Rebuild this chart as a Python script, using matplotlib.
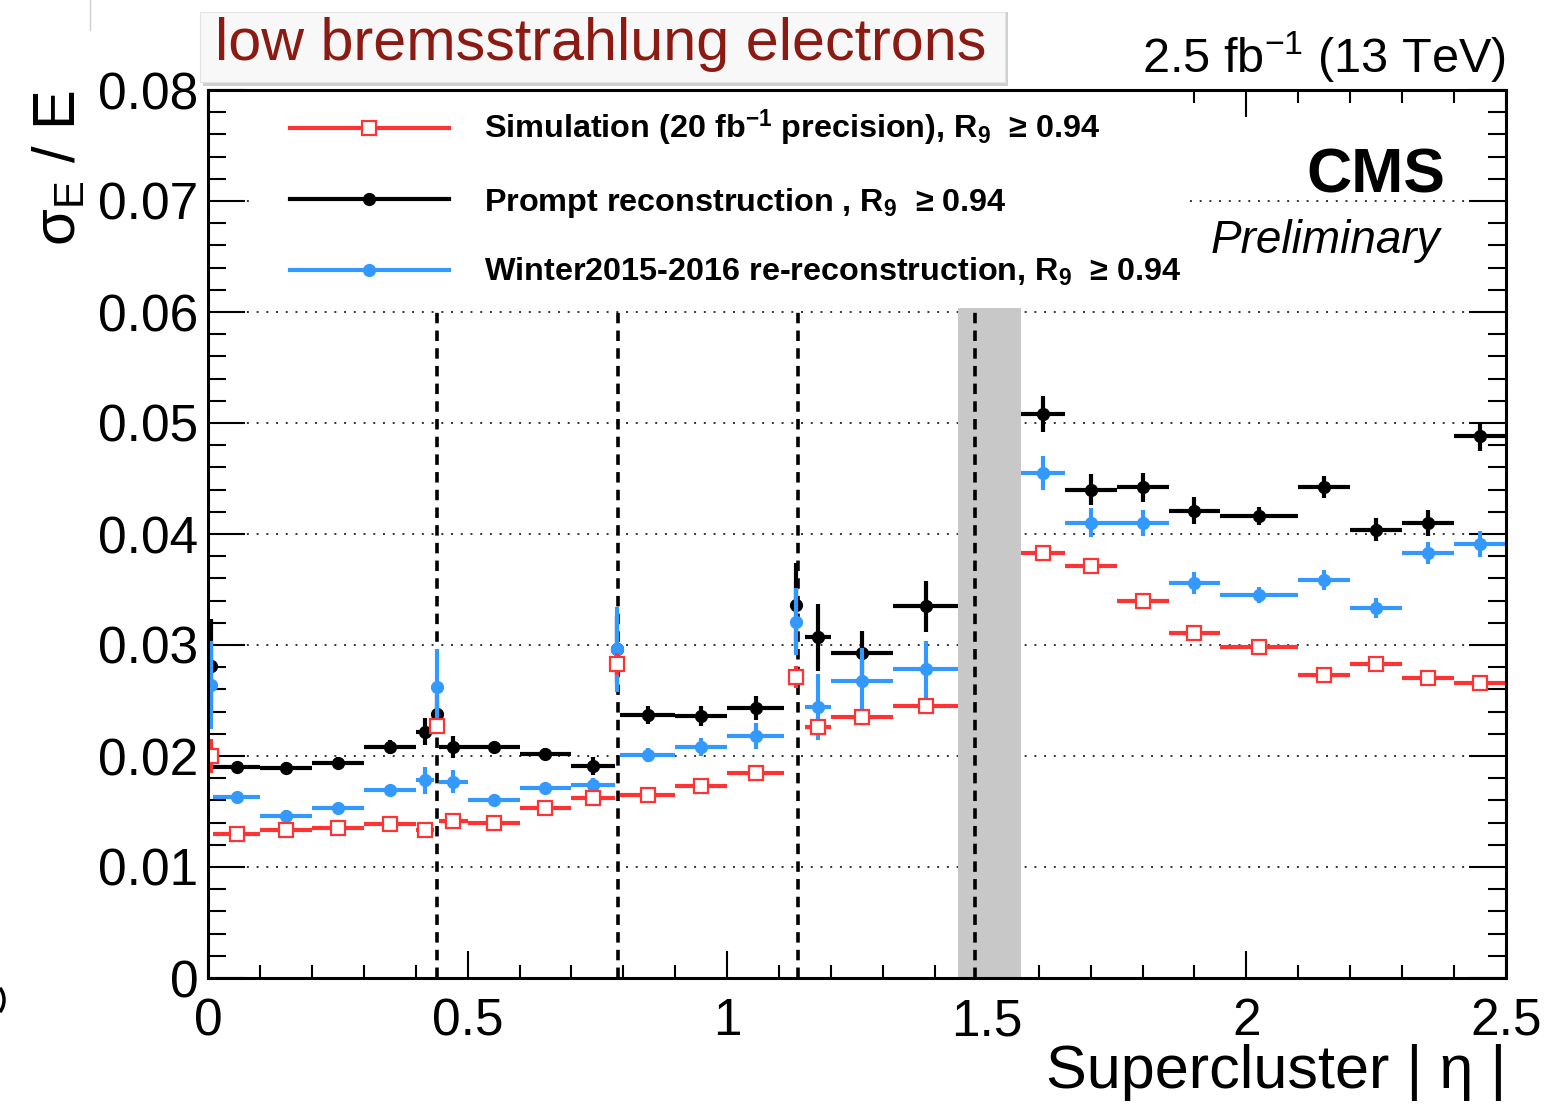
import matplotlib
matplotlib.use("Agg")
import matplotlib.pyplot as plt
from matplotlib.lines import Line2D
from matplotlib.patches import Rectangle, FancyBboxPatch, Arc
from matplotlib.ticker import MultipleLocator, FuncFormatter
import numpy as np

plt.rcParams['font.family'] = ['Liberation Sans', 'DejaVu Sans']
plt.rcParams['mathtext.fontset'] = 'custom'
plt.rcParams['mathtext.rm'] = 'Liberation Sans'
plt.rcParams['mathtext.bf'] = 'Liberation Sans:bold'
plt.rcParams['mathtext.it'] = 'Liberation Sans:italic'
plt.rcParams['mathtext.sf'] = 'Liberation Sans'

# |eta| bins (barrel, module-crack bins, endcap)
bin_lo = [0.000, 0.01, 0.10, 0.20, 0.30, 0.40, 0.436, 0.445, 0.50, 0.60, 0.70,
          0.783, 0.793, 0.90, 1.00, 1.128, 1.15, 1.20, 1.32,
          1.566, 1.65, 1.75, 1.85, 1.95, 2.10, 2.20, 2.30, 2.40]
bin_hi = [0.010, 0.10, 0.20, 0.30, 0.40, 0.435, 0.446, 0.50, 0.60, 0.70, 0.783,
          0.793, 0.90, 1.00, 1.11, 1.138, 1.20, 1.32, 1.4442,
          1.65, 1.75, 1.85, 1.95, 2.10, 2.20, 2.30, 2.40, 2.50]

# sigma_E / E, prompt reconstruction
prompt_val = [0.0281, 0.0190, 0.01895, 0.0194, 0.0208, 0.0222, 0.0238, 0.0208, 0.0208, 0.0202, 0.0191,
              0.0296, 0.0237, 0.0236, 0.02435, 0.0336, 0.0307, 0.0293, 0.0335,
              0.0508, 0.0440, 0.0442, 0.0421, 0.0416, 0.0442, 0.0404, 0.0410, 0.0488]
prompt_err = [0.0042, 0.0005, 0.0005, 0.0005, 0.0006, 0.0012, 0.0017, 0.0010, 0.0005, 0.0005, 0.0008,
              0.0030, 0.0008, 0.0009, 0.0011, 0.0038, 0.0030, 0.0020, 0.0023,
              0.0016, 0.0014, 0.0013, 0.0012, 0.0008, 0.0010, 0.0010, 0.0012, 0.0013]

# sigma_E / E, Winter2015-2016 re-reconstruction
rereco_val = [0.0264, 0.0163, 0.0146, 0.0153, 0.0169, 0.0178, 0.0262, 0.0177, 0.0160, 0.0171, 0.0174,
              0.0296, 0.0201, 0.0208, 0.0218, 0.0321, 0.0244, 0.0268, 0.0278,
              0.0455, 0.0410, 0.0410, 0.0356, 0.0345, 0.0359, 0.0333, 0.0383, 0.0391]
rereco_err = [0.0040, 0.0005, 0.0005, 0.0005, 0.0005, 0.0012, 0.0034, 0.0010, 0.0005, 0.0005, 0.0006,
              0.0038, 0.0006, 0.0008, 0.0012, 0.0030, 0.0030, 0.0029, 0.0026,
              0.0015, 0.0013, 0.0012, 0.0010, 0.0007, 0.0009, 0.0009, 0.0010, 0.0012]

# sigma_E / E, simulation
sim_val = [0.0200, 0.0130, 0.0133, 0.0135, 0.0139, 0.0133, 0.0227, 0.0141, 0.0140, 0.0153, 0.0162,
           0.0283, 0.0165, 0.0173, 0.0185, 0.0271, 0.0226, 0.0235, 0.0245,
           0.0383, 0.0371, 0.0340, 0.0311, 0.0298, 0.0273, 0.0283, 0.0270, 0.0266]
sim_err = [0.0015, 0.0004, 0.0004, 0.0004, 0.0004, 0.0004, 0.0007, 0.0004, 0.0004, 0.0004, 0.0004,
           0.0010, 0.0004, 0.0004, 0.0004, 0.0010, 0.0004, 0.0004, 0.0004,
           0.0004, 0.0004, 0.0004, 0.0004, 0.0004, 0.0004, 0.0004, 0.0004, 0.0004]

module_cracks = [0.441, 0.789, 1.136, 1.478]
eb_ee_gap = (1.4442, 1.566)

legend_labels = [
    r"Simulation (20 fb$^{\mathbf{-1}}$ precision), R$_{\mathbf{9}}$  ≥ 0.94",
    r"Prompt reconstruction , R$_{\mathbf{9}}$  ≥ 0.94",
    r"Winter2015-2016 re-reconstruction, R$_{\mathbf{9}}$  ≥ 0.94",
]

RED = '#ff3333'
BLUE = '#3399ff'
BLACK = '#000000'

lo = np.array(bin_lo)
hi = np.array(bin_hi)
centers = 0.5 * (lo + hi)
half = 0.5 * (hi - lo)

W, H = 1563, 1104
fig = plt.figure(figsize=(W / 100, H / 100), dpi=100)
ax = fig.add_axes([208 / W, 1 - 978 / H, 1298 / W, 888 / H])
ax.set_xlim(0, 2.5)
ax.set_ylim(0, 0.08)

# horizontal dotted grid
ax.yaxis.grid(True, which='major', linestyle=(0, (1, 4)), color='#333333', lw=1.4)
ax.xaxis.grid(False)
ax.set_axisbelow(True)

# barrel/endcap transition region and module boundaries
ax.axvspan(*eb_ee_gap, color='#c8c8c8', lw=0, zorder=1.6)
for c in module_cracks:
    ax.axvline(c, color='black', lw=2.6, linestyle=(0, (2.9, 2.0)), zorder=1.7)

ax.errorbar(centers, prompt_val, xerr=half, yerr=prompt_err, color=BLACK,
            fmt='o', ms=8.5, mfc=BLACK, mec=BLACK, elinewidth=3.0, capsize=0, zorder=3)
ax.errorbar(centers, rereco_val, xerr=half, yerr=rereco_err, color=BLUE,
            fmt='o', ms=8.5, mfc=BLUE, mec=BLUE, elinewidth=3.0, capsize=0, zorder=3.2)
ax.errorbar(centers, sim_val, xerr=half, yerr=sim_err, color=RED,
            fmt='s', ms=10, mfc='white', mec=RED, mew=1.6, elinewidth=3.0, capsize=0, zorder=3.4)

# ticks
ax.xaxis.set_major_locator(MultipleLocator(0.5))
ax.xaxis.set_minor_locator(MultipleLocator(0.1))
ax.yaxis.set_major_locator(MultipleLocator(0.01))
ax.yaxis.set_minor_locator(MultipleLocator(0.002))
ax.xaxis.set_major_formatter(FuncFormatter(lambda v, p: '0' if abs(v) < 1e-9 else f'{v:g}'))
ax.yaxis.set_major_formatter(FuncFormatter(lambda v, p: '0' if abs(v) < 1e-9 else f'{v:.2f}'))
ax.tick_params(which='both', direction='in', top=True, right=True, width=1.5, colors='black')
ax.tick_params(axis='x', which='major', length=19.5, labelsize=37, pad=14)
ax.tick_params(axis='x', which='minor', length=9.5)
ax.tick_params(axis='y', which='major', length=26.5, labelsize=37, pad=7)
ax.tick_params(axis='y', which='minor', length=13)

for s in ax.spines.values():
    s.set_linewidth(2.2)
    s.set_zorder(10)

# axis titles
ax.set_xlabel('Supercluster | η |', fontsize=44, loc='right')
ax.xaxis.set_label_coords(1.0, -0.074)
ax.xaxis.label.set_va('top')
ax.set_ylabel(r'σ$_{\mathrm{E}}$ / E', fontsize=43, loc='top')
ax.yaxis.set_label_coords(-0.093, 1.0)

# white legend pad
ax.add_patch(Rectangle((0.034, 0.7545), 0.719, 0.2455, transform=ax.transAxes,
                       facecolor='white', edgecolor='none', zorder=5))
handles = [
    Line2D([], [], color=RED, lw=3, marker='s', ms=10, mfc='white', mec=RED, mew=1.6),
    Line2D([], [], color=BLACK, lw=3, marker='o', ms=8.5),
    Line2D([], [], color=BLUE, lw=3, marker='o', ms=8.5),
]
leg = ax.legend(handles, legend_labels, loc='upper left',
                bbox_to_anchor=((290 - 208) / 1298, (978 - 108) / 888),
                frameon=False, prop={'weight': 'bold', 'size': 23.3},
                handlelength=4.9, handletextpad=1.08, labelspacing=1.12,
                borderpad=0, borderaxespad=0)
leg.set_zorder(11)

ax.text(0.953, 0.885, 'CMS', transform=ax.transAxes, ha='right', va='baseline',
        fontsize=45, fontweight='bold', zorder=12)
ax.text(0.949, 0.8164, 'Preliminary', transform=ax.transAxes, ha='right', va='baseline',
        fontsize=33, fontstyle='italic', zorder=12)
ax.text(1.0, (978 - 73) / 888, r'2.5 fb$^{-1}$ (13 TeV)', transform=ax.transAxes,
        ha='right', va='baseline', fontsize=35)

# title banner
shadow = FancyBboxPatch((203 / W, 1 - 86 / H), 805 / W, 74 / H, boxstyle='square,pad=0',
                        transform=fig.transFigure, facecolor='#b0b0b0', edgecolor='none',
                        alpha=0.6, zorder=1)
banner = FancyBboxPatch((200 / W, 1 - 82 / H), 805 / W, 70 / H, boxstyle='square,pad=0',
                        transform=fig.transFigure, facecolor='#f8f8f8', edgecolor='#e4e4e4',
                        lw=0.8, zorder=2)
fig.patches.extend([shadow, banner])
fig.text(215 / W, 1 - 60 / H, 'low bremsstrahlung electrons', color='#8b1a12',
         fontsize=42.7, ha='left', va='baseline', zorder=3)

# slide edge remnants
fig.add_artist(Line2D([90 / W, 90 / W], [1.0, 1 - 30 / H], transform=fig.transFigure,
                      color='#d0d0d0', lw=1.0))
fig.add_artist(Arc((-10 / W, 1 - 1000 / H), 28 / W, 34 / H, theta1=-60, theta2=60,
                   transform=fig.transFigure, color='black', lw=2.5))

fig.savefig('out.png', dpi=100, facecolor='white')
